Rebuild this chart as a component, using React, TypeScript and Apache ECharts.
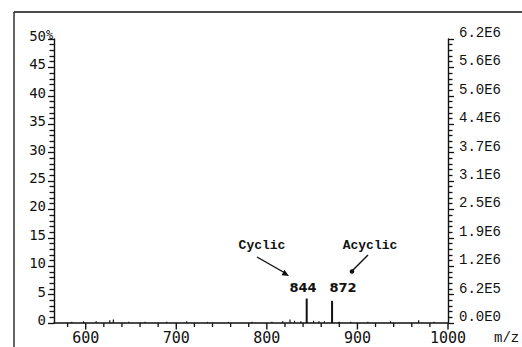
import React, { useEffect, useRef } from "react";
import * as echarts from "echarts";

// m/z values and relative intensities (%)
const peakMz = [844, 872];
const peakIntensity = [4.3, 3.9];
const noiseMz = [585, 598, 612, 627, 631, 648, 666, 690, 712, 735, 758, 784, 806, 818, 826, 831, 838, 852, 858, 864, 880, 893, 912, 937, 968, 985];
const noiseIntensity = [0.2, 0.3, 0.3, 0.5, 0.6, 0.2, 0.2, 0.2, 0.3, 0.2, 0.2, 0.2, 0.2, 0.3, 0.6, 0.4, 0.3, 0.4, 0.3, 0.3, 0.2, 0.2, 0.2, 0.3, 0.5, 0.2];

const X_MIN = 565;
const X_MAX = 1000;
const xMajorTicks = [600, 700, 800, 900, 1000];
const xMinorTicks = [580, 620, 640, 660, 680, 720, 740, 760, 780, 820, 840, 860, 880, 920, 940, 960, 980];
const leftTickLabels = ["0", "5", "10", "15", "20", "25", "30", "35", "40", "45", "50"];
const rightTickLabels = ["0.0E0", "6.2E5", "1.2E6", "1.9E6", "2.5E6", "3.1E6", "3.7E6", "4.4E6", "5.0E6", "5.6E6", "6.2E6"];

const INK = "#111111";

export default function App() {
  const ref = useRef<HTMLDivElement>(null);
  useEffect(() => {
    if (!ref.current) return;
    const chart = echarts.init(ref.current, null, { renderer: "svg" });
    const yCommon = {
      type: "value",
      min: 0,
      max: 50,
      interval: 5,
      splitLine: { show: false },
      axisLine: { show: true, lineStyle: { color: INK, width: 1.4 } },
      axisTick: { show: true, length: 6, lineStyle: { color: INK, width: 1.3 } },
      minorTick: { show: true, splitNumber: 5, length: 4.5, lineStyle: { color: INK, width: 1.3 } },
    };
    chart.setOption({
      animation: false,
      backgroundColor: "#ffffff",
      grid: { left: 54, right: 74, top: 39, bottom: 24, containLabel: false },
      xAxis: {
        type: "value",
        min: X_MIN,
        max: X_MAX,
        splitLine: { show: false },
        axisLine: { show: true, onZero: false, lineStyle: { color: INK, width: 1.6 } },
        axisTick: { show: false },
        axisLabel: { show: false },
      },
      yAxis: [
        {
          ...yCommon,
          position: "left",
          axisLabel: {
            margin: 8,
            color: INK,
            fontFamily: "DejaVu Sans Mono",
            fontSize: 14,
            verticalAlign: "bottom",
            lineHeight: 6,
            formatter: (v: number) => leftTickLabels[Math.round(v / 5)] ?? "",
          },
        },
        {
          ...yCommon,
          position: "right",
          axisLabel: {
            margin: 11,
            color: INK,
            fontFamily: "Liberation Mono",
            fontSize: 14,
            verticalAlign: "bottom",
            lineHeight: 12,
            formatter: (v: number) => rightTickLabels[Math.round(v / 5)] ?? "",
          },
        },
      ],
      series: [
        {
          type: "bar",
          barWidth: 1.2,
          itemStyle: { color: INK },
          data: noiseMz.map((m, i) => [m, noiseIntensity[i]]),
        },
        {
          type: "bar",
          barWidth: 2,
          barGap: "-100%",
          itemStyle: { color: INK },
          data: peakMz.map((m, i) => [m, peakIntensity[i]]),
        },
        {
          type: "custom",
          clip: false,
          data: xMinorTicks.map((v) => [v, 0]),
          renderItem: (_p: any, api: any) => {
            const p = api.coord([api.value(0), api.value(1)]);
            return { type: "line", shape: { x1: p[0], y1: p[1], x2: p[0], y2: p[1] + 4 }, style: { stroke: INK, lineWidth: 1.3 } };
          },
        },
        {
          type: "custom",
          clip: false,
          data: xMajorTicks.map((v) => [v, 0]),
          renderItem: (_p: any, api: any) => {
            const v = api.value(0);
            const p = api.coord([v, api.value(1)]);
            return {
              type: "group",
              children: [
                { type: "line", shape: { x1: p[0], y1: p[1], x2: p[0], y2: p[1] + 6.5 }, style: { stroke: INK, lineWidth: 1.4 } },
                {
                  type: "text",
                  x: p[0],
                  y: p[1] + 7,
                  style: { text: String(v), fill: INK, font: "15px 'DejaVu Sans Mono'", textAlign: "center", textVerticalAlign: "top" },
                },
              ],
            };
          },
        },
      ],
      graphic: [
        { type: "line", shape: { x1: 14, y1: 12, x2: 522, y2: 12 }, style: { stroke: INK, lineWidth: 1.3 } },
        { type: "line", shape: { x1: 14, y1: 12, x2: 14, y2: 347 }, style: { stroke: INK, lineWidth: 1.3 } },
        {
          type: "text",
          x: 46,
          y: 35,
          style: { text: "%", fill: INK, font: "12px 'DejaVu Sans Mono'", textAlign: "left", textVerticalAlign: "middle" },
        },
        {
          type: "text",
          x: 494,
          y: 338,
          style: { text: "m/z", fill: INK, font: "14px 'Liberation Mono'", textAlign: "left", textVerticalAlign: "middle" },
        },
        {
          type: "text",
          x: 262,
          y: 245,
          style: { text: "Cyclic", fill: INK, font: "bold 13px 'Liberation Mono'", textAlign: "center", textVerticalAlign: "middle" },
        },
        {
          type: "text",
          x: 370,
          y: 245,
          style: { text: "Acyclic", fill: INK, font: "bold 13px 'Liberation Mono'", textAlign: "center", textVerticalAlign: "middle" },
        },
        {
          type: "text",
          x: 303,
          y: 287,
          style: { text: String(peakMz[0]), fill: INK, font: "bold 13px 'DejaVu Sans'", textAlign: "center", textVerticalAlign: "middle" },
        },
        {
          type: "text",
          x: 343,
          y: 287,
          style: { text: String(peakMz[1]), fill: INK, font: "bold 13px 'DejaVu Sans'", textAlign: "center", textVerticalAlign: "middle" },
        },
        { type: "line", shape: { x1: 257, y1: 257, x2: 285, y2: 273 }, style: { stroke: INK, lineWidth: 1.4 } },
        {
          type: "polygon",
          shape: { points: [[289, 276], [281.6, 275.2], [284.4, 269.7]] },
          style: { fill: INK },
        },
        { type: "line", shape: { x1: 368, y1: 255, x2: 352, y2: 271 }, style: { stroke: INK, lineWidth: 1.4 } },
        { type: "circle", shape: { cx: 352, cy: 271.5, r: 2.3 }, style: { fill: INK } },
      ],
    });
    return () => chart.dispose();
  }, []);
  return <div ref={ref} style={{ position: "fixed", left: 0, top: 0, width: 522, height: 347 }} />;
}
